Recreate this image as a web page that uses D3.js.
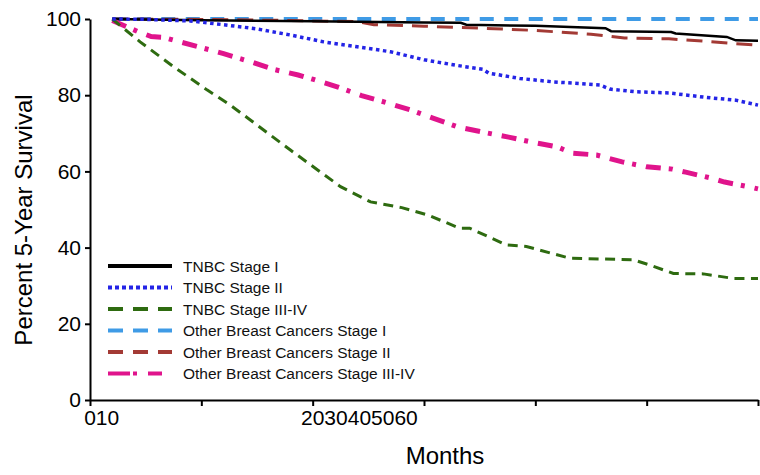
<!DOCTYPE html>
<html>
<head>
<meta charset="utf-8">
<script src="https://cdn.jsdelivr.net/npm/d3@7/dist/d3.min.js"></script>
<style>
  body { margin: 0; background: #fff; }
  svg { display: block; font-family: "Liberation Sans", Arial, sans-serif; }
</style>
</head>
<body>
<svg id="chart" width="760" height="475"></svg>
<script>
// x ticks (months) and the odd label grouping seen on the original axis
const xTicks = [0, 10, 20, 30, 40, 50, 60];
const xLabelGroups = [[0, 10], [20, 30, 40, 50, 60]];
const yTicks = [0, 20, 40, 60, 80, 100];

const seriesNames = [
  "TNBC Stage I",
  "TNBC Stage II",
  "TNBC Stage III-IV",
  "Other Breast Cancers Stage I",
  "Other Breast Cancers Stage II",
  "Other Breast Cancers Stage III-IV"
];

// [month, percent]
const tnbcStage1 = [[2,100],[10,99.7],[20,99.4],[30,99.1],[33.3,99.0],[33.8,98.5],[40,98.2],[46.3,97.6],[46.8,96.8],[52.2,96.6],[52.6,96.2],[57.2,95.3],[58,94.4],[60,94.3]];
const tnbcStage2 = [[2,100],[5,99.9],[9,99.5],[12,98.5],[15,97.4],[18,95.8],[21,94.0],[24,92.7],[27,91.4],[30,89.3],[33,87.8],[35.3,86.8],[35.8,85.8],[38.6,84.4],[41.6,83.5],[45.8,82.7],[46.7,81.6],[49,80.9],[52,80.6],[55.4,79.4],[58,78.7],[60,77.4]];
const tnbcStage34 = [[2,100],[4.5,94.0],[7.5,87.5],[10.5,81.4],[12.6,77.4],[14.4,73.5],[18,65.6],[22.5,56.0],[25.2,52.0],[28,50.5],[30.3,48.6],[33.2,45.1],[34.1,45.1],[37.4,40.7],[39.2,40.3],[43.1,37.2],[48.8,36.8],[50.3,35.4],[52.4,33.2],[55.1,33.1],[57.8,31.9],[60,31.9]];
const otherStage1 = [[2,100],[60,100]];
const otherStage2 = [[2,100],[10,99.9],[18,99.6],[24,99.3],[25.5,98.5],[30,98.1],[35,97.6],[40,97.0],[45,96.0],[48,95.0],[52,94.8],[55,94.2],[60,93.1]];
const otherStage34 = [[2,99.6],[4.3,96.7],[5.5,95.4],[6.6,95.2],[7.7,94.3],[10,92.5],[12,90.9],[14.4,88.8],[16.6,86.7],[18.7,85.3],[20,84.2],[22.2,82.2],[24.4,79.9],[26.7,78.0],[28.8,76.1],[30.8,74.0],[33,71.7],[35.3,70.3],[37.6,69.0],[40,67.5],[42,66.4],[43.3,64.8],[45.5,64.3],[47.8,62.5],[50,61.2],[52.3,60.6],[53.5,59.8],[55.7,58.3],[57,57.2],[59.1,56.0],[60,55.4]];

const seriesData = [tnbcStage1, tnbcStage2, tnbcStage34, otherStage1, otherStage2, otherStage34];

// styles: plot stroke, legend stroke
const styles = [
  { color: "#000000", width: 2.5, dash: null,          lw: 4, ldash: null },
  { color: "#2424e6", width: 3.5, dash: "3.5,3.5",     lw: 4, ldash: "4,3" },
  { color: "#2e6b10", width: 3,   dash: "10,6.5",      lw: 4, ldash: "15,10" },
  { color: "#3f9be6", width: 4,   dash: "14,10.5",     lw: 4, ldash: "15,10" },
  { color: "#a33a35", width: 3,   dash: "16,9",        lw: 4, ldash: "15,10" },
  { color: "#e0148c", width: 5,   dash: "15,8,4,10",   lw: 4, ldash: "22,3,4,11,14,100" }
];

const svg = d3.select("#chart");
const m = { left: 90, right: 2, top: 19, bottom: 75 };
const W = 760, H = 475;

const x = d3.scaleLinear().domain([0, 60]).range([m.left, W - m.right]);
const y = d3.scaleLinear().domain([0, 100]).range([H - m.bottom, m.top]);

// curves
const line = d3.line().x(d => x(d[0])).y(d => y(d[1]));
const order = [3, 4, 0, 5, 2, 1];
order.forEach(i => {
  svg.append("path")
    .datum(seriesData[i])
    .attr("fill", "none")
    .attr("stroke", styles[i].color)
    .attr("stroke-width", styles[i].width)
    .attr("stroke-dasharray", styles[i].dash)
    .attr("d", line);
});

// y axis
const yAxis = svg.append("g")
  .attr("transform", "translate(" + m.left + ",0)")
  .call(d3.axisLeft(y).tickValues(yTicks).tickSize(5).tickPadding(4).tickSizeOuter(0));
yAxis.select(".domain").attr("stroke-width", 2);
yAxis.selectAll(".tick line").attr("stroke-width", 2);
yAxis.selectAll("text").attr("font-size", 21).attr("fill", "#000").attr("font-family", "Liberation Sans, Arial, sans-serif");

// x axis, labels drawn separately below
const xAxis = svg.append("g")
  .attr("transform", "translate(0," + (H - m.bottom) + ")")
  .call(d3.axisBottom(x).tickValues(xTicks).tickSize(6).tickSizeOuter(0).tickFormat(""));
xAxis.select(".domain").attr("stroke-width", 2);
xAxis.selectAll(".tick line").attr("stroke-width", 2);

xLabelGroups.forEach(grp => {
  const t = svg.append("text")
    .attr("x", x(grp[0]))
    .attr("y", H - m.bottom + 25)
    .attr("font-size", 21)
    .attr("fill", "#000");
  const spans = grp.map(v => t.append("tspan").text(v));
  const w0 = spans[0].node().getComputedTextLength();
  t.attr("dx", -w0 / 2);
});

// axis titles
svg.append("text")
  .attr("x", 445)
  .attr("y", 464)
  .attr("text-anchor", "middle")
  .attr("font-size", 24)
  .text("Months");

svg.append("text")
  .attr("transform", "translate(32,220) rotate(-90)")
  .attr("text-anchor", "middle")
  .attr("font-size", 24)
  .text("Percent 5-Year Survival");

// legend
const lg = svg.append("g").attr("transform", "translate(108,266)");
seriesNames.forEach((name, i) => {
  const row = lg.append("g").attr("transform", "translate(0," + (i * 21.5) + ")");
  row.append("line")
    .attr("x1", 0).attr("x2", 64)
    .attr("stroke", styles[i].color)
    .attr("stroke-width", styles[i].lw)
    .attr("stroke-dasharray", styles[i].ldash);
  row.append("text")
    .attr("x", 75)
    .attr("y", 5.5)
    .attr("font-size", 15.5)
    .attr("fill", "#111")
    .text(name);
});
</script>
</body>
</html>
